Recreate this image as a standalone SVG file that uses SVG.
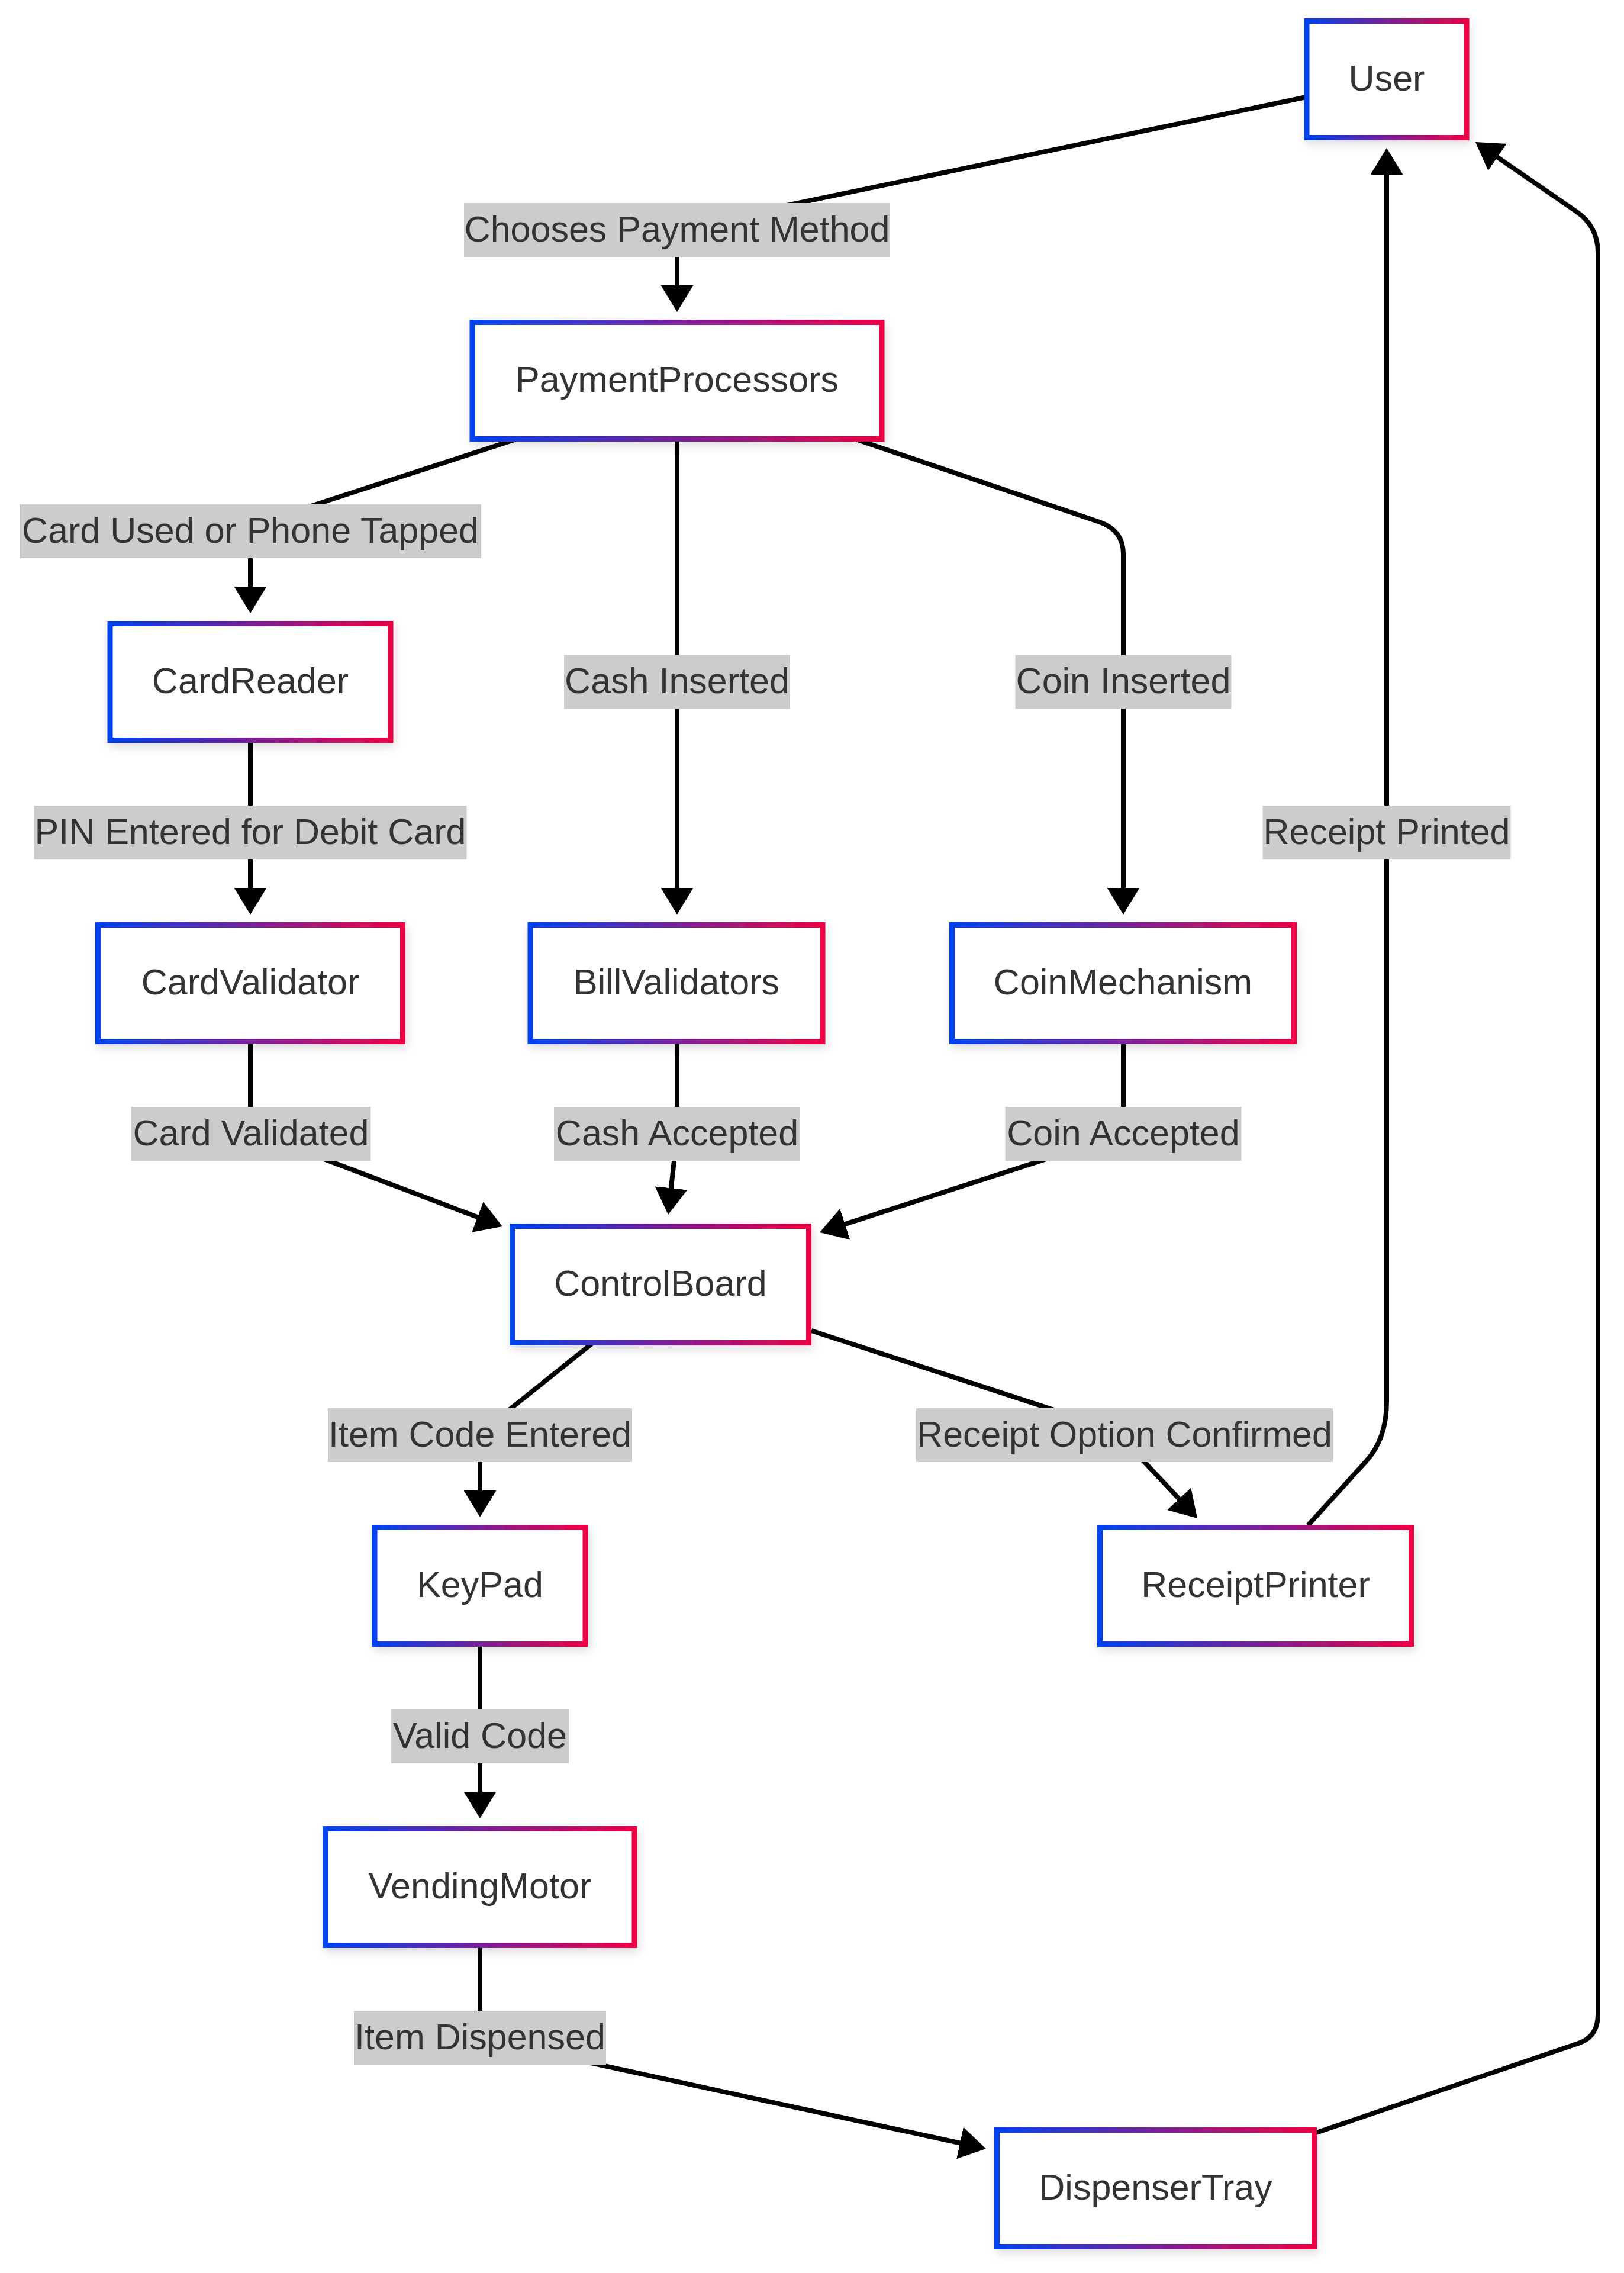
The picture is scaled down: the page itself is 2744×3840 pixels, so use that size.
<svg xmlns="http://www.w3.org/2000/svg" width="2744" height="3840" viewBox="0 0 2744 3840">
  <defs>
    <linearGradient id="nodeStroke" x1="0" y1="0" x2="1" y2="0">
      <stop offset="0" stop-color="#0042EE"/>
      <stop offset="1" stop-color="#EE0044"/>
    </linearGradient>
    <filter id="softShadow" x="-20%" y="-20%" width="140%" height="150%">
      <feDropShadow dx="3" dy="7" stdDeviation="8" flood-color="#000" flood-opacity="0.13"/>
    </filter>
    <marker id="arrow" viewBox="0 0 45 55" markerUnits="userSpaceOnUse" markerWidth="45" markerHeight="55" refX="35" refY="27.5" orient="auto">
      <path d="M0,0 L45,27.5 L0,55 z" fill="#000"/>
    </marker>
    <style>
      .node rect { fill: #ffffff; stroke: url(#nodeStroke); stroke-width: 9; filter: url(#softShadow); }
      .node text { font-family: "Liberation Sans", Arial, Helvetica, sans-serif; font-size: 61px; fill: #333333; text-anchor: middle; }
      .edge { fill: none; stroke: #000000; stroke-width: 8; marker-end: url(#arrow); }
      .elabel rect { fill: #cccccc; }
      .elabel text { font-family: "Liberation Sans", Arial, Helvetica, sans-serif; font-size: 61px; fill: #333333; text-anchor: middle; }
    </style>
  </defs>

  <rect x="0" y="0" width="2744" height="3840" fill="#ffffff"/>

  <!-- connector lines -->
  <g id="connectors">
    <path id="e-user-pp" class="edge" d="M2207,164 L1200,374 Q1144,386 1144,420 L1144,517"/>
    <path id="e-pp-cardreader" class="edge" d="M872,742 L470,873 Q423,888 423,920 L423,1026"/>
    <path id="e-pp-bill" class="edge" d="M1144,742 L1144,1535"/>
    <path id="e-pp-coin" class="edge" d="M1440,740 L1858,882 Q1898,896 1898,936 L1898,1535"/>
    <path id="e-cardreader-cardvalidator" class="edge" d="M423,1251 L423,1535"/>
    <path id="e-cardvalidator-control" class="edge" d="M423,1760 L423,1880 Q423,1915 460,1925 L839.6,2068.5"/>
    <path id="e-bill-control" class="edge" d="M1144,1760 L1144,1915 L1130.1,2042.1"/>
    <path id="e-coin-control" class="edge" d="M1898,1760 L1898,1880 Q1898,1915 1860,1928 L1394.5,2078.9"/>
    <path id="e-control-keypad" class="edge" d="M1000,2270 L850,2390 Q811,2420 811,2450 L811,2553"/>
    <path id="e-control-printer" class="edge" d="M1371,2248 L1790,2385 Q1880,2414 1915,2450 L2016.2,2557.7"/>
    <path id="e-printer-user" class="edge" d="M2210,2577 L2307,2470 Q2343,2432 2343,2367 L2343,260"/>
    <path id="e-keypad-motor" class="edge" d="M811,2778 L811,3062"/>
    <path id="e-motor-tray" class="edge" d="M811,3287 L811,3400 Q811,3440 860,3455 L1656.2,3627.9"/>
    <path id="e-tray-user" class="edge" d="M2224,3603 L2667,3452 Q2700,3441 2700,3403 L2700,427 Q2700,382 2663,357 L2501.2,245.7"/>
  </g>

  <!-- connector labels -->
  <g id="edge-labels">
    <g class="elabel"><rect x="784" y="343" width="720" height="91"/><text x="1144" y="407.5">Chooses Payment Method</text></g>
    <g class="elabel"><rect x="33" y="852" width="780" height="91"/><text x="423" y="916.5">Card Used or Phone Tapped</text></g>
    <g class="elabel"><rect x="953" y="1106.5" width="382" height="91"/><text x="1144" y="1171">Cash Inserted</text></g>
    <g class="elabel"><rect x="1715.5" y="1106.5" width="365" height="91"/><text x="1898" y="1171">Coin Inserted</text></g>
    <g class="elabel"><rect x="57.5" y="1361" width="731" height="91"/><text x="423" y="1425.5">PIN Entered for Debit Card</text></g>
    <g class="elabel"><rect x="2133.5" y="1361" width="419" height="91"/><text x="2343" y="1425.5">Receipt Printed</text></g>
    <g class="elabel"><rect x="221.5" y="1870" width="405" height="91"/><text x="424" y="1934.5">Card Validated</text></g>
    <g class="elabel"><rect x="936" y="1870" width="416" height="91"/><text x="1144" y="1934.5">Cash Accepted</text></g>
    <g class="elabel"><rect x="1698.5" y="1870" width="399" height="91"/><text x="1898" y="1934.5">Coin Accepted</text></g>
    <g class="elabel"><rect x="554" y="2379" width="514" height="91"/><text x="811" y="2443.5">Item Code Entered</text></g>
    <g class="elabel"><rect x="1548" y="2379" width="704" height="91"/><text x="1900" y="2443.5">Receipt Option Confirmed</text></g>
    <g class="elabel"><rect x="661" y="2888" width="300" height="91"/><text x="811" y="2952.5">Valid Code</text></g>
    <g class="elabel"><rect x="598" y="3397" width="426" height="91"/><text x="811" y="3461.5">Item Dispensed</text></g>
  </g>

  <!-- component nodes -->
  <g id="nodes">
    <g id="User" class="node"><rect x="2208" y="35.5" width="270" height="197"/><text x="2343" y="153">User</text></g>
    <g id="PaymentProcessors" class="node"><rect x="798" y="544.5" width="692" height="197"/><text x="1144" y="662">PaymentProcessors</text></g>
    <g id="CardReader" class="node"><rect x="186" y="1053.5" width="474" height="197"/><text x="423" y="1171">CardReader</text></g>
    <g id="CardValidator" class="node"><rect x="165.5" y="1562.5" width="515" height="197"/><text x="423" y="1680">CardValidator</text></g>
    <g id="BillValidators" class="node"><rect x="896" y="1562.5" width="494" height="197"/><text x="1143" y="1680">BillValidators</text></g>
    <g id="CoinMechanism" class="node"><rect x="1608.5" y="1562.5" width="578" height="197"/><text x="1897.5" y="1680">CoinMechanism</text></g>
    <g id="ControlBoard" class="node"><rect x="865.5" y="2071.5" width="501" height="197"/><text x="1116" y="2189">ControlBoard</text></g>
    <g id="KeyPad" class="node"><rect x="633" y="2580.5" width="356" height="197"/><text x="811" y="2698">KeyPad</text></g>
    <g id="ReceiptPrinter" class="node"><rect x="1858.5" y="2580.5" width="526" height="197"/><text x="2121.5" y="2698">ReceiptPrinter</text></g>
    <g id="VendingMotor" class="node"><rect x="550" y="3089.5" width="522" height="197"/><text x="811" y="3207">VendingMotor</text></g>
    <g id="DispenserTray" class="node"><rect x="1684.5" y="3598.5" width="536" height="197"/><text x="1952.5" y="3716">DispenserTray</text></g>
  </g>
</svg>
